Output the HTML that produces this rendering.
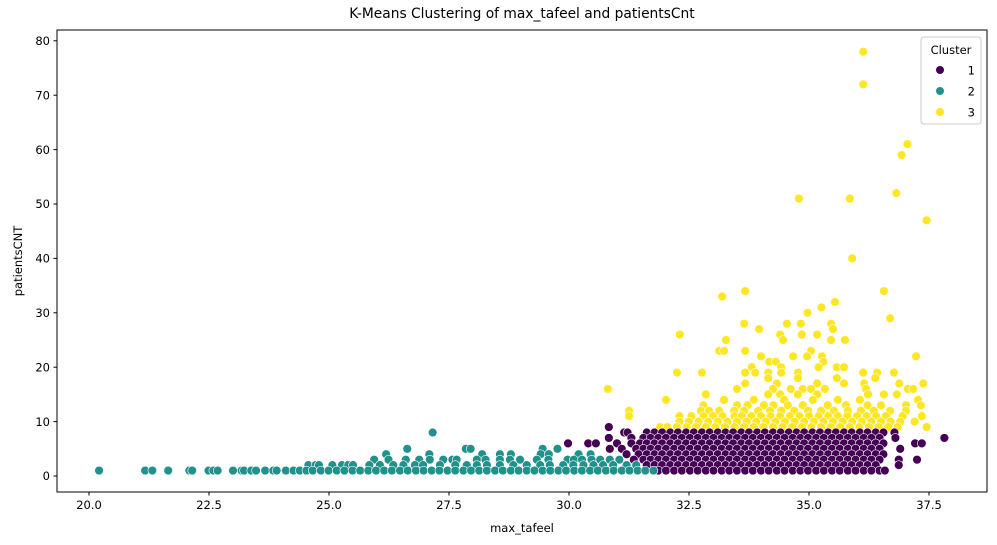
<!DOCTYPE html>
<html><head><meta charset="utf-8"><style>
html,body{margin:0;padding:0;background:#fff;}
svg{display:block;font-family:"DejaVu Sans","Liberation Sans",sans-serif;}
</style></head><body>
<svg id="chart" width="997" height="545" viewBox="0 0 997 545">
<rect x="0" y="0" width="997" height="545" fill="#fff"/>
<text x="522" y="18" text-anchor="middle" font-size="13.8" fill="#000">K-Means Clustering of max_tafeel and patientsCnt</text>
<text x="522" y="532" text-anchor="middle" font-size="11.5" fill="#000">max_tafeel</text>
<text x="22" y="261" text-anchor="middle" font-size="11.5" fill="#000" transform="rotate(-90 22 261)">patientsCNT</text>
<g id="marks"></g>
<g id="axes"></g>
<rect x="57" y="30" width="930" height="462" fill="none" stroke="#000" stroke-width="1"/>
<g>
<rect x="921" y="37" width="60" height="87" rx="3" fill="#fff" fill-opacity="0.8" stroke="#ccc" stroke-width="1"/>
<text x="951" y="54" text-anchor="middle" font-size="11.5" fill="#000">Cluster</text>
<circle cx="940" cy="70" r="4" fill="#440154"/>
<text x="975" y="74.5" text-anchor="end" font-size="11.5" fill="#000">1</text>
<circle cx="940" cy="91" r="4" fill="#21918c"/>
<text x="975" y="95.5" text-anchor="end" font-size="11.5" fill="#000">2</text>
<circle cx="940" cy="112" r="4" fill="#fde725"/>
<text x="975" y="116.5" text-anchor="end" font-size="11.5" fill="#000">3</text>
</g>
</svg>
<script>
const xTicks = [20.0, 22.5, 25.0, 27.5, 30.0, 32.5, 35.0, 37.5];
const xTickLabels = ["20.0","22.5","25.0","27.5","30.0","32.5","35.0","37.5"];
const yTicks = [0,10,20,30,40,50,60,70,80];
const yTickLabels = ["0","10","20","30","40","50","60","70","80"];
const clusterColors = ["#440154","#21918c","#fde725"];

// cluster 3 (yellow) individual points [x, y]
const yellowPoints = [
[36.13,78],[36.13,72],[37.05,61],[36.93,59],[36.82,52],[37.45,47],[34.79,51],[35.85,51],[35.9,40],
[33.19,33],[33.67,34],[36.56,34],[35.54,32],[35.26,31],[34.97,30],[36.69,29],[34.54,28],[33.65,28],[34.83,28],
[33.96,27],[35.46,28],[35.5,27],[34.4,26],[35.17,26],[34.85,26],[32.31,26],[33.27,25],[34.46,25],[35.46,25],
[35.75,25],[33.13,23],[33.23,23],[33.67,23],[35.04,23],[34.0,22],[34.67,22],[35.27,22],[37.23,22],[34.96,22],
[34.17,21],[34.31,21],[35.3,21],[33.81,20],[34.42,20],[35.58,20],[35.73,20],[35.2,20],[32.25,19],[32.77,19],
[33.67,19],[33.88,19],[34.15,19],[34.42,19],[34.77,19],[36.13,19],[36.42,19],[36.77,19],[34.15,18],[34.77,18],
[35.58,18],[36.38,18],[33.67,17],[34.33,17],[35.17,17],[35.73,17],[36.15,17],[36.88,17],[37.38,17],[30.81,16],
[33.5,16],[34.25,16],[34.62,16],[34.87,16],[35.04,16],[35.33,16],[36.19,16],[37.06,16],[37.17,16],[32.85,15],
[34.15,15],[34.4,15],[34.77,15],[35.17,15],[36.23,15],[36.56,15],[36.83,15],[32.02,14],[33.23,14],[33.85,14],
[34.48,14],[35.08,14],[35.6,14],[36.06,14],[37.27,14]
];
// cluster 3 (yellow) dense rows: [y, [x...]]
const yellowRows = [
[13,[32.8,33.5,33.72,34.06,34.26,34.56,34.87,35.39,35.77,36.22,36.5,37.02,37.33]],
[12,[31.25,32.75,32.92,33.13,33.44,33.65,33.94,34.19,34.42,34.69,34.98,35.25,35.52,35.81,36.08,36.35,36.69,37.02]],
[11,[31.25,32.3,32.55,32.8,33.0,33.2,33.45,33.6,33.8,34.0,34.2,34.4,34.6,34.8,35.0,35.2,35.4,35.6,35.8,36.0,36.2,36.4,36.6,36.95,37.35]],
[10,[32.3,32.5,32.7,32.9,33.1,33.3,33.5,33.7,33.9,34.1,34.3,34.5,34.7,34.9,35.1,35.3,35.5,35.7,35.9,36.1,36.3,36.5,36.7,36.9,37.2]],
[9,[31.9,32.05,32.25,32.45,32.65,32.85,33.05,33.25,33.45,33.65,33.85,34.05,34.25,34.45,34.65,34.85,35.05,35.25,35.45,35.65,35.85,36.05,36.25,36.45,36.65,36.85,37.45]]
];
// cluster 1 (purple) rows
const purpleRows = [
[9,[30.83]],
[8,[31.15,31.22,31.62,31.78,31.94,32.11,32.27,32.44,32.6,32.77,32.93,33.1,33.26,33.42,33.59,33.75,33.92,34.08,34.25,34.41,34.58,34.74,34.9,35.07,35.23,35.4,35.56,35.73,35.89,36.06,36.22,36.39,36.55,36.78]],
[7,[30.83,31.3,31.55,31.7,31.86,32.02,32.19,32.35,32.52,32.68,32.85,33.01,33.18,33.34,33.5,33.67,33.83,34.0,34.16,34.33,34.49,34.66,34.82,34.98,35.15,35.31,35.48,35.64,35.81,35.97,36.14,36.3,36.47,36.8,37.82]],
[6,[29.98,30.4,30.56,31.0,31.3,31.48,31.62,31.78,31.94,32.11,32.27,32.44,32.6,32.77,32.93,33.1,33.26,33.42,33.59,33.75,33.92,34.08,34.25,34.41,34.58,34.74,34.9,35.07,35.23,35.4,35.56,35.73,35.89,36.06,36.22,36.39,36.55,37.21,37.35]],
[5,[30.85,31.1,31.4,31.55,31.7,31.86,32.02,32.19,32.35,32.52,32.68,32.85,33.01,33.18,33.34,33.5,33.67,33.83,34.0,34.16,34.33,34.49,34.66,34.82,34.98,35.15,35.31,35.48,35.64,35.81,35.97,36.14,36.3,36.47,36.9]],
[4,[31.2,31.45,31.62,31.78,31.94,32.11,32.27,32.44,32.6,32.77,32.93,33.1,33.26,33.42,33.59,33.75,33.92,34.08,34.25,34.41,34.58,34.74,34.9,35.07,35.23,35.4,35.56,35.73,35.89,36.06,36.22,36.39,36.55]],
[3,[31.35,31.55,31.7,31.86,32.02,32.19,32.35,32.52,32.68,32.85,33.01,33.18,33.34,33.5,33.67,33.83,34.0,34.16,34.33,34.49,34.66,34.82,34.98,35.15,35.31,35.48,35.64,35.81,35.97,36.14,36.3,36.47,36.87,37.25]],
[2,[31.62,31.78,31.94,32.11,32.27,32.44,32.6,32.77,32.93,33.1,33.26,33.42,33.59,33.75,33.92,34.08,34.25,34.41,34.58,34.74,34.9,35.07,35.23,35.4,35.56,35.73,35.89,36.06,36.22,36.39,36.87]],
[1,[31.86,32.02,32.19,32.35,32.52,32.68,32.85,33.01,33.18,33.34,33.5,33.67,33.83,34.0,34.16,34.33,34.49,34.66,34.82,34.98,35.15,35.31,35.48,35.64,35.81,35.97,36.14,36.3,36.47,36.58]]
];
// cluster 2 (teal) rows
const tealRows = [
[8,[27.16]],
[5,[26.63,27.85,27.95,29.45,29.76]],
[4,[26.19,27.09,28.19,28.56,28.79,29.41,29.58,30.2,30.45]],
[3,[25.94,26.24,26.6,26.88,27.1,27.38,27.57,27.66,28.08,28.26,28.56,28.77,28.98,29.33,29.57,29.97,30.1,30.27,30.47,30.65,30.85,31.05]],
[2,[24.57,24.72,24.79,25.07,25.27,25.4,25.5,25.84,26.06,26.34,26.55,26.79,26.96,27.31,27.63,27.87,28.08,28.29,28.56,28.84,29.12,29.4,29.6,29.88,30.09,30.3,30.51,30.71,30.92,31.2,31.4]],
[1,[20.21,21.17,21.32,21.65,22.09,22.15,22.49,22.59,22.68,23.0,23.18,23.23,23.38,23.48,23.67,23.84,23.91,24.1,24.26,24.39,24.53,24.66,24.83,24.99,25.16,25.32,25.49,25.65,25.82,25.98,26.15,26.31,26.48,26.64,26.81,26.97,27.14,27.3,27.47,27.63,27.8,27.96,28.13,28.29,28.46,28.62,28.79,28.95,29.12,29.28,29.45,29.61,29.78,29.94,30.11,30.27,30.44,30.6,30.77,30.93,31.1,31.26,31.43,31.59,31.76]]
];

const NS = "http://www.w3.org/2000/svg";
function xScale(v){ return 89 + (v - 20) * 48; }
function yScale(v){ return 476 - v * 5.44; }

const marks = document.getElementById('marks');
const axes = document.getElementById('axes');

function dot(x, y, color, cluster){
  const c = document.createElementNS(NS, 'circle');
  c.setAttribute('cx', xScale(x).toFixed(2));
  c.setAttribute('cy', yScale(y).toFixed(2));
  c.setAttribute('r', '4.4');
  c.setAttribute('fill', color);
  c.setAttribute('stroke', '#fff');
  c.setAttribute('stroke-width', '0.6');
  
  
  marks.appendChild(c);
}

yellowPoints.forEach(p => dot(p[0], p[1], clusterColors[2], 3));
yellowRows.forEach(r => r[1].forEach(x => dot(x, r[0], clusterColors[2], 3)));
purpleRows.forEach(r => r[1].forEach(x => dot(x, r[0], clusterColors[0], 1)));
tealRows.forEach(r => r[1].forEach(x => dot(x, r[0], clusterColors[1], 2)));

xTicks.forEach((t, i) => {
  const px = xScale(t);
  const l = document.createElementNS(NS, 'line');
  l.setAttribute('x1', px); l.setAttribute('x2', px);
  l.setAttribute('y1', 492); l.setAttribute('y2', 495.5);
  l.setAttribute('stroke', '#000');
  
  
  axes.appendChild(l);
  const tx = document.createElementNS(NS, 'text');
  tx.setAttribute('x', px); tx.setAttribute('y', 509);
  tx.setAttribute('text-anchor', 'middle');
  tx.setAttribute('font-size', '11.5');
  tx.textContent = xTickLabels[i];
  
  
  axes.appendChild(tx);
});
yTicks.forEach((t, i) => {
  const py = yScale(t);
  const l = document.createElementNS(NS, 'line');
  l.setAttribute('x1', 53.5); l.setAttribute('x2', 57);
  l.setAttribute('y1', py); l.setAttribute('y2', py);
  l.setAttribute('stroke', '#000');
  
  
  axes.appendChild(l);
  const tx = document.createElementNS(NS, 'text');
  tx.setAttribute('x', 50); tx.setAttribute('y', py + 4.2);
  tx.setAttribute('text-anchor', 'end');
  tx.setAttribute('font-size', '11.5');
  tx.textContent = yTickLabels[i];
  
  
  axes.appendChild(tx);
});
</script>
</body></html>
